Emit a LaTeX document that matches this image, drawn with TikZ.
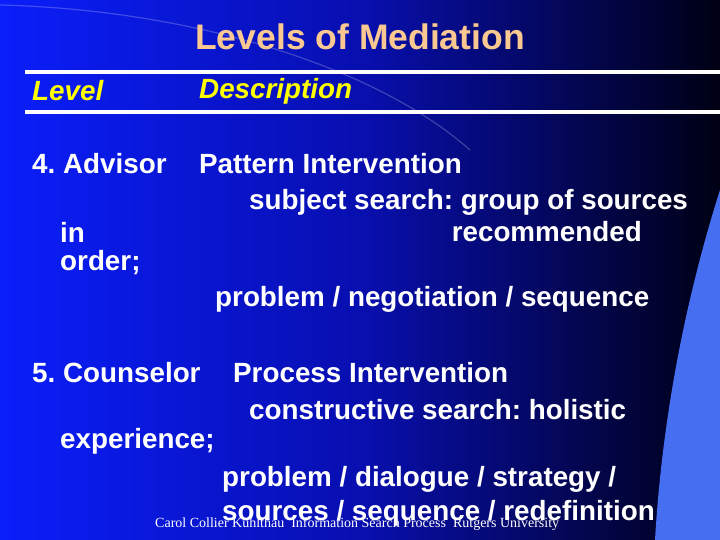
\documentclass[tikz,border=0pt]{standalone}
\usepackage{fontspec}
\setmainfont{Liberation Sans}
\newfontfamily\footfont{Liberation Serif}
\frenchspacing
\definecolor{bgL}{RGB}{10,30,250}
\definecolor{bgM}{RGB}{8,15,175}
\definecolor{bgR}{RGB}{0,0,20}
\definecolor{swoosh}{RGB}{70,110,240}
\definecolor{peach}{RGB}{250,200,145}
\definecolor{yel}{RGB}{255,255,0}
\begin{document}
\begin{tikzpicture}[x=1pt,y=-1pt,
  txt/.style={anchor=west,inner sep=0pt,text=white,font=\fontsize{27.8}{29}\selectfont\bfseries},
  head/.style={anchor=west,inner sep=0pt,text=yel,font=\fontsize{27.8}{29}\selectfont\bfseries\itshape},
  rule/.style={white,line width=3.5pt}]
\useasboundingbox (0,0) rectangle (720,540);
\shade[left color=bgL,right color=bgR,middle color=bgM] (0,0) rectangle (720,540);
\fill[swoosh] (720,190) .. controls (685,300) and (662,420) .. (655,540) -- (720,540) -- cycle;
\draw[white,opacity=0.22,line width=1.2pt] (0,5) .. controls (200,10) and (380,70) .. (470,150);
\node[inner sep=0pt,text=peach,font=\fontsize{35.5}{38}\selectfont\bfseries] (title) at (360,37) {Levels of Mediation};
\coordinate (r1a) at (25,72); \coordinate (r1b) at (720,72);
\coordinate (r2a) at (25,112); \coordinate (r2b) at (720,112);
\draw[rule] (r1a) -- (r1b);
\draw[rule] (r2a) -- (r2b);
\node[head] (lv) at (32,91) {Level};
\node[head] (ds) at (199,91) {Description};
\node[txt] (a1) at (32,164) {4. Advisor};
\node[txt] (a2) at (199,164) {Pattern Intervention};
\node[txt] (a3) at (249,202) {subject search: group of sources};
\node[txt] (a4) at (60,232) {in};
\node[txt,anchor=east] (a5) at (642,232) {recommended};
\node[txt] (a6) at (60,263) {order;};
\node[txt] (a7) at (215,299) {problem / negotiation / sequence};
\node[txt] (c1) at (32,373) {5. Counselor};
\node[txt] (c2) at (233,373) {Process Intervention};
\node[txt] (c3) at (249,410) {constructive search: holistic};
\node[txt] (c4) at (60,441) {experience;};
\node[txt] (c5) at (222,479) {problem / dialogue / strategy /};
\node[txt] (c6) at (222,513) {sources / sequence / redefinition};
\node[anchor=west,inner sep=0pt,text=white,font=\footfont\fontsize{14}{15}\selectfont] (ft) at (155,524) {Carol Collier Kuhlthau\enspace Information Search Process\enspace Rutgers University};
\end{tikzpicture}
\end{document}
